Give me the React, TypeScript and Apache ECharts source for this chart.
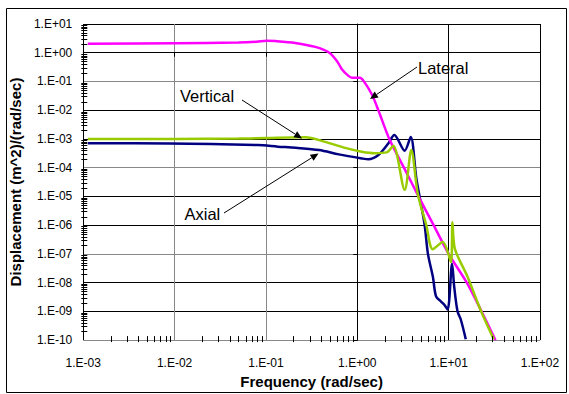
import React, { useEffect, useRef } from "react";
import * as echarts from "echarts";

// ---- data ----
const lateralFreq = [0.00112, 0.01, 0.05, 0.079, 0.102, 0.126, 0.209, 0.347, 0.49, 0.603, 0.681, 0.794, 0.875, 1.07, 1.17, 1.44, 1.7, 2.24, 3.24, 4.68, 6.84, 10, 15.8, 22.9, 32.5];
const lateralDisp = [2.05, 2.15, 2.25, 2.4, 2.6, 2.55, 2.2, 1.6, 1.02, 0.5, 0.26, 0.16, 0.135, 0.135, 0.105, 0.036, 0.01, 1e-3, 1e-4, 1e-5, 1e-6, 1e-7, 1e-8, 1e-9, 1e-10];

const verticalFreq = [0.00112, 0.01, 0.05, 0.1, 0.27, 0.445, 0.735, 1.12, 1.55, 2.09, 2.47, 3.3, 3.9, 4.6, 5.67, 6.71, 8.6, 10.6, 11.0, 11.7, 16.1, 22.4, 31.2];
const verticalDisp = [1.0e-3, 1.0e-3, 1.03e-3, 1.08e-3, 1.15e-3, 7.9e-4, 4.9e-4, 3.6e-4, 3.2e-4, 3.4e-4, 5.8e-4, 1.7e-5, 4.1e-4, 1.2e-5, 1.05e-6, 1.45e-7, 2.6e-7, 5.2e-8, 1.26e-6, 1.5e-7, 1.6e-8, 1.1e-9, 1.07e-10];

const axialFreq = [0.00112, 0.0087, 0.0817, 0.135, 0.212, 0.381, 0.627, 1.12, 1.32, 1.7, 2.18, 2.54, 3.3, 3.84, 4.42, 4.81, 5.45, 5.93, 6.72, 7.28, 8.26, 8.96, 9.75, 10.9, 11.5, 12.5, 13.6, 15.4];
const axialDisp = [7.1e-4, 7.0e-4, 6.1e-4, 5.4e-4, 4.9e-4, 4.1e-4, 2.9e-4, 2.1e-4, 1.96e-4, 2.75e-4, 6.9e-4, 1.38e-3, 3.9e-4, 1.18e-3, 4.4e-5, 9.8e-6, 1.05e-6, 1e-7, 1.6e-8, 3.3e-9, 2.2e-9, 1.7e-9, 1.15e-9, 4.5e-8, 7.2e-9, 1e-9, 5.1e-10, 1.07e-10];

// axis extents as decade exponents
const xMinExp = -3;
const xMaxExp = 2;
const yMinExp = -10;
const yMaxExp = 1;
// minor tick multipliers within each decade
const minorMultipliers = [2, 3, 4, 5, 6, 7, 8, 9];

const xTitle = "Frequency (rad/sec)";
const yTitle = "Displacement (m^2)/(rad/sec)";

const annotations = [
  { text: "Lateral", tx: 418, ty: 68, x1: 417, y1: 67, x2: 370, y2: 99 },
  { text: "Vertical", tx: 180, ty: 95.5, x1: 242, y1: 100, x2: 302, y2: 138.5 },
  { text: "Axial", tx: 184.5, ty: 213.5, x1: 224, y1: 213, x2: 318.5, y2: 153.5 },
];

const FONT = "'Liberation Sans', Arial, sans-serif";

const zipLog = (xs: number[], ys: number[]) => xs.map((x, i) => [Math.log10(x), Math.log10(ys[i])]);

const fmtExp = (v: number) => {
  const e = Math.round(v);
  const s = e < 0 ? "-" : "+";
  return `1.E${s}${String(Math.abs(e)).padStart(2, "0")}`;
};

const minorPositions = (lo: number, hi: number) => {
  const out: number[] = [];
  for (let d = lo; d < hi; d++) for (const k of minorMultipliers) out.push(d + Math.log10(k));
  return out;
};

function arrowGraphics(a: { x1: number; y1: number; x2: number; y2: number }) {
  const dx = a.x2 - a.x1;
  const dy = a.y2 - a.y1;
  const len = Math.sqrt(dx * dx + dy * dy);
  const ux = dx / len;
  const uy = dy / len;
  const hl = 8;
  const hw = 3.5;
  const bx = a.x2 - ux * hl;
  const by = a.y2 - uy * hl;
  return [
    {
      type: "line",
      shape: { x1: a.x1, y1: a.y1, x2: bx, y2: by },
      style: { stroke: "#000", lineWidth: 1 },
      z: 100,
    },
    {
      type: "polygon",
      shape: {
        points: [
          [a.x2, a.y2],
          [bx - uy * hw, by + ux * hw],
          [bx + uy * hw, by - ux * hw],
        ],
      },
      style: { fill: "#000" },
      z: 100,
    },
  ];
}

export default function App() {
  const ref = useRef<HTMLDivElement>(null);
  useEffect(() => {
    document.body.style.margin = "0";
    const chart = echarts.init(ref.current!, null, { renderer: "svg" });

    const lineSeries = (name: string, color: string, data: number[][], z: number) => ({
      name,
      type: "line",
      data,
      showSymbol: false,
      smooth: 0.3,
      lineStyle: { color, width: 2.5 },
      itemStyle: { color },
      z,
    });

    chart.setOption({
      animation: false,
      backgroundColor: "#fff",
      textStyle: { fontFamily: FONT },
      grid: { left: 78, right: 29, top: 24, bottom: 50 },
      xAxis: {
        type: "value",
        min: xMinExp,
        max: xMaxExp,
        interval: 1,
        name: xTitle,
        nameLocation: "middle",
        nameGap: 31,
        nameTextStyle: { fontFamily: FONT, fontSize: 15, fontWeight: "bold", color: "#000" },
        axisLine: { lineStyle: { color: "#000", width: 1 } },
        axisTick: { show: true, length: 4, lineStyle: { color: "#000" } },
        axisLabel: { formatter: fmtExp, fontFamily: FONT, fontSize: 12, color: "#000", margin: 17 },
        splitLine: {
          show: true,
          lineStyle: { color: ["#000", "#888", "#888", "#000", "#000", "#000"], width: 1 },
        },
      },
      yAxis: {
        type: "value",
        min: yMinExp,
        max: yMaxExp,
        interval: 1,
        name: yTitle,
        nameLocation: "middle",
        nameGap: 53,
        nameTextStyle: { fontFamily: FONT, fontSize: 15, fontWeight: "bold", color: "#000" },
        axisLine: { show: true, lineStyle: { color: "#000", width: 1 } },
        axisTick: { show: true, length: 4, lineStyle: { color: "#000" } },
        axisLabel: { formatter: fmtExp, fontFamily: FONT, fontSize: 12, color: "#000", margin: 11 },
        splitLine: {
          show: true,
          lineStyle: { color: ["#888", "#000", "#000"], width: 1 },
        },
      },
      series: [
        lineSeries("Axial", "#000080", zipLog(axialFreq, axialDisp), 10),
        lineSeries("Lateral", "#ff00ff", zipLog(lateralFreq, lateralDisp), 11),
        lineSeries("Vertical", "#99cc00", zipLog(verticalFreq, verticalDisp), 12),
      ],
    });

    // minor (2..9) log ticks, positioned through the axes' own scales
    const ticks: any[] = [];
    for (const v of minorPositions(yMinExp, yMaxExp)) {
      const p = chart.convertToPixel({ gridIndex: 0 }, [xMinExp, v]) as number[];
      const y = Math.round(p[1]) + 0.5;
      ticks.push({
        type: "line",
        shape: { x1: p[0] - 2, y1: y, x2: p[0] + 4, y2: y },
        style: { stroke: "#000", lineWidth: 1 },
        silent: true,
        z: 50,
      });
    }
    for (const v of minorPositions(xMinExp, xMaxExp)) {
      const p = chart.convertToPixel({ gridIndex: 0 }, [v, yMinExp]) as number[];
      const x = Math.round(p[0]) + 0.5;
      ticks.push({
        type: "line",
        shape: { x1: x, y1: p[1] + 2, x2: x, y2: p[1] - 4 },
        style: { stroke: "#000", lineWidth: 1 },
        silent: true,
        z: 50,
      });
    }

    chart.setOption({
      graphic: [
        {
          type: "rect",
          shape: { x: 6.5, y: 8.5, width: 560, height: 384 },
          style: { fill: "none", stroke: "#000", lineWidth: 1 },
          silent: true,
          z: 0,
        },
        ...annotations.map((a) => ({
          type: "text",
          x: a.tx,
          y: a.ty,
          style: {
            text: a.text,
            fontFamily: FONT,
            fontSize: 16.5,
            fill: "#000",
            align: "left",
            verticalAlign: "middle",
          },
          z: 100,
        })),
        ...annotations.flatMap((a) => arrowGraphics(a)),
        ...ticks,
      ],
    });
    return () => chart.dispose();
  }, []);
  return <div ref={ref} style={{ width: 569, height: 394 }} />;
}
